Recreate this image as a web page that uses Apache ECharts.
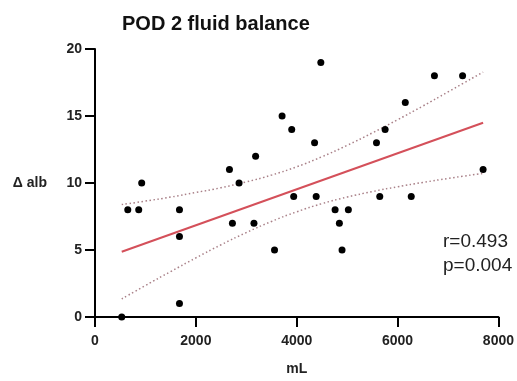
<!DOCTYPE html>
<html><head><meta charset="utf-8">
<script src="https://cdn.jsdelivr.net/npm/echarts@6/dist/echarts.min.js"></script>
<style>html,body{margin:0;padding:0;background:#fff}#c{width:517px;height:381px}</style>
</head><body><div id="c"></div>
<script>
// Scatter data (mL, Δ alb)
var fluidML = [530, 650, 867, 926, 1675, 1675, 1675, 2666, 2725, 2857, 3152, 3185, 3560, 3710, 3901, 3940,
               4354, 4386, 4478, 4761, 4846, 4899, 5024, 5582, 5647, 5753, 6153, 6271, 6731, 7289, 7696];
var deltaAlb = [0, 8, 8, 10, 8, 6, 1, 11, 7, 10, 7, 12, 5, 15, 14, 9,
                13, 9, 19, 8, 7, 5, 8, 13, 9, 14, 16, 9, 18, 18, 11];
// Regression line
var fitX = [530, 7696];
var fitY = [4.87, 14.5];
// 95% confidence band
var bandX = [530, 1000, 1500, 2000, 2500, 3000, 3500, 4000, 4500, 5000, 5500, 6000, 6500, 7000, 7696];
var bandUpper = [8.39, 8.65, 8.95, 9.29, 9.65, 10.08, 10.59, 11.21, 11.96, 12.81, 13.74, 14.72, 15.74, 16.80, 18.28];
var bandLower = [1.35, 2.35, 3.39, 4.41, 5.39, 6.30, 7.13, 7.85, 8.46, 8.95, 9.36, 9.72, 10.04, 10.34, 10.72];
var xTicks = [0, 2000, 4000, 6000, 8000];
var yTicks = [0, 5, 10, 15, 20];
var statText = ['r=0.493', 'p=0.004'];

function zip(a, b) { return a.map(function (v, i) { return [v, b[i]]; }); }

var FONT = 'Liberation Sans, Arial, sans-serif';
var chart = echarts.init(document.getElementById('c'), null, {renderer: 'canvas'});
function axisParts(margin) {
  return {
    axisLine: {show: true, onZero: false, lineStyle: {color: '#000', width: 2}},
    axisTick: {show: true, inside: false, length: 10, lineStyle: {color: '#000', width: 2}},
    splitLine: {show: false},
    axisLabel: {color: '#222', fontSize: 14, fontWeight: 'bold', fontFamily: FONT, margin: margin,
                formatter: function (v) { return String(v); }}
  };
}
chart.setOption({
  animation: false,
  backgroundColor: '#fff',
  title: {
    text: 'POD 2 fluid balance', left: 117, top: 9,
    textStyle: {fontSize: 20, fontWeight: 'bold', color: '#111', fontFamily: FONT}
  },
  grid: {left: 95, right: 16, top: 49, bottom: 61, containLabel: false},
  xAxis: Object.assign({
    type: 'value', min: xTicks[0], max: xTicks[xTicks.length - 1], interval: xTicks[1] - xTicks[0],
    name: 'mL', nameLocation: 'middle', nameGap: 45,
    nameTextStyle: {fontSize: 14, fontWeight: 'bold', color: '#222', fontFamily: FONT}
  }, axisParts(17)),
  yAxis: Object.assign({
    type: 'value', min: yTicks[0], max: yTicks[yTicks.length - 1], interval: yTicks[1] - yTicks[0],
    name: 'Δ alb', nameLocation: 'middle', nameGap: 48, nameRotate: 0,
    nameTextStyle: {fontSize: 14, fontWeight: 'bold', color: '#222', fontFamily: FONT}
  }, axisParts(13)),
  graphic: [
    {type: 'text', left: 443, top: 232, style: {text: statText[0], fill: '#222', font: '19px ' + FONT}},
    {type: 'text', left: 443, top: 256, style: {text: statText[1], fill: '#222', font: '19px ' + FONT}}
  ],
  series: [
    {type: 'line', data: zip(bandX, bandUpper), showSymbol: false, smooth: true, z: 2,
     lineStyle: {color: '#a98088', width: 1.5, type: [1.5, 2.5]}},
    {type: 'line', data: zip(bandX, bandLower), showSymbol: false, smooth: true, z: 2,
     lineStyle: {color: '#a98088', width: 1.5, type: [1.5, 2.5]}},
    {type: 'line', data: zip(fitX, fitY), showSymbol: false, z: 3,
     lineStyle: {color: '#d4505a', width: 2}},
    {type: 'scatter', data: zip(fluidML, deltaAlb), symbol: 'circle', symbolSize: 7, z: 5,
     itemStyle: {color: '#000', opacity: 1}}
  ]
});
</script></body></html>
